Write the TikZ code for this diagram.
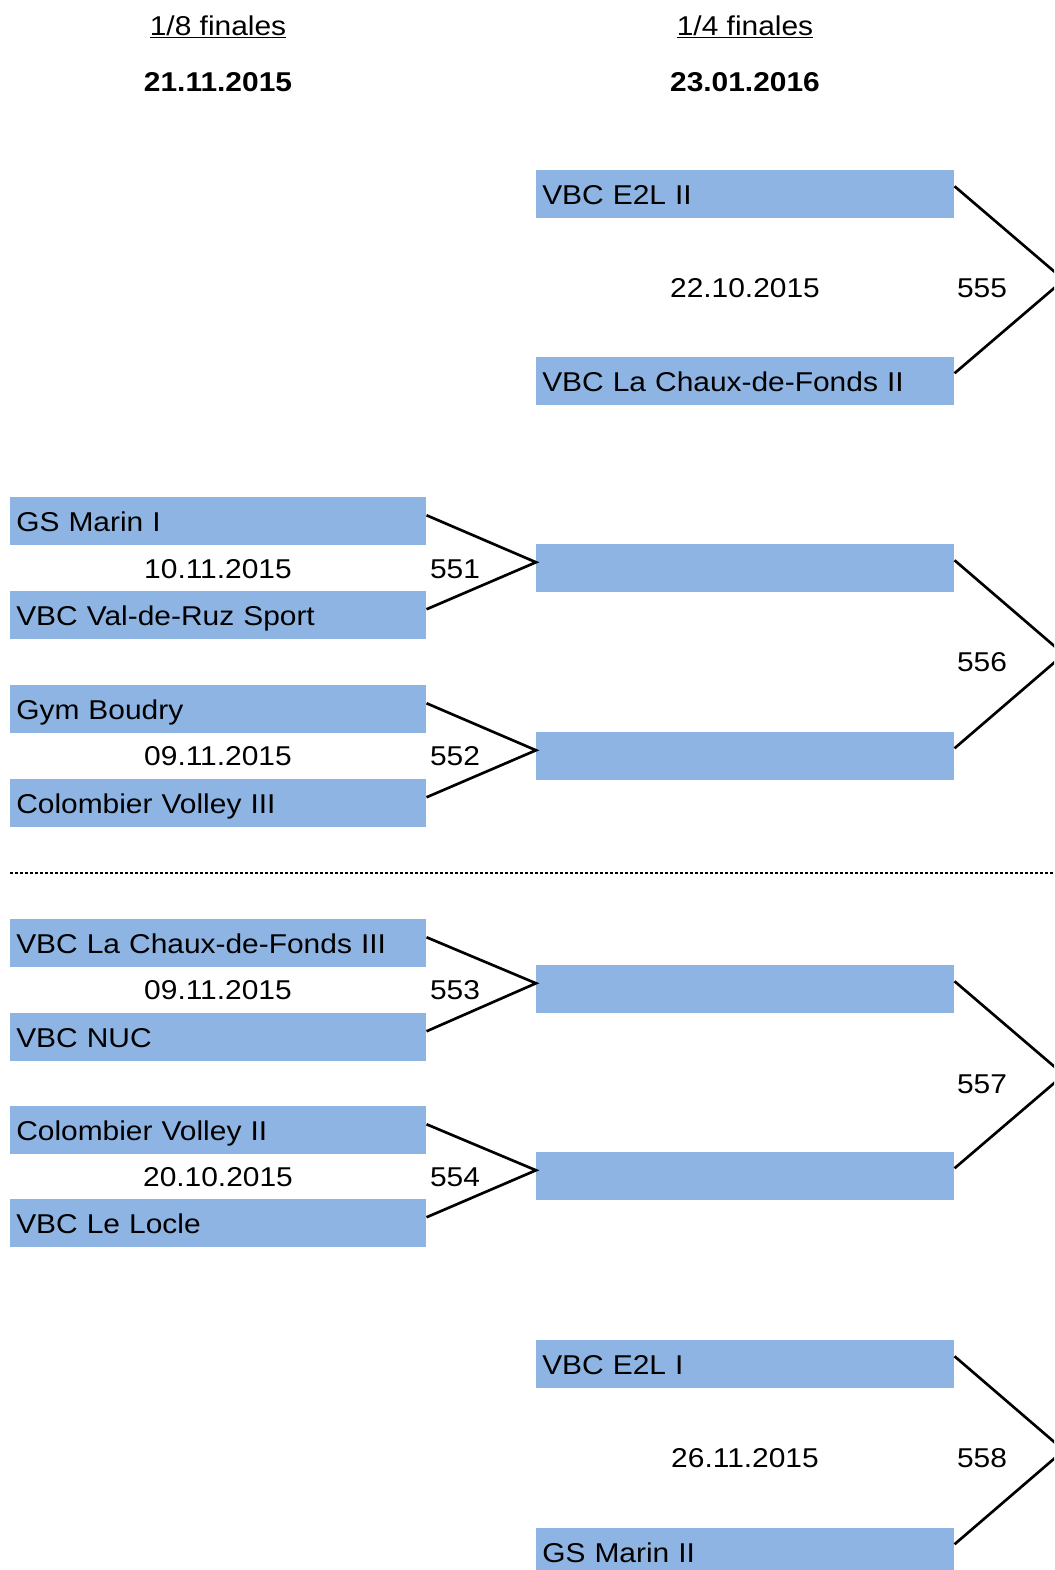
\documentclass[tikz,border=0pt]{standalone}
\usepackage{fontspec}
\setmainfont{Liberation Sans}[FakeStretch=1.1]
\usetikzlibrary{calc}
\definecolor{boxblue}{RGB}{141,180,226}
\newcommand{\teamfont}{\fontsize{20.4}{24}\selectfont}
\begin{document}
\begin{tikzpicture}[x=0.75pt,y=-0.75pt,
  team/.style={fill=boxblue, minimum height=36pt, inner xsep=4.5pt, inner ysep=0pt,
    text width=303pt, align=left, anchor=north west, font=\teamfont,
    text height=20pt, text depth=4pt},
  rteam/.style={team, text width=304.5pt},
  conn/.style={line width=2pt, line join=miter},
  lbl/.style={font=\teamfont, inner sep=0pt},
  head/.style={font=\teamfont, inner sep=0pt, anchor=base},
  sep/.style={line width=1.6pt, dash pattern=on 2.25pt off 1.5pt}]
\useasboundingbox (0,0) rectangle (1054,1570);
\clip (0,0) rectangle (1054,1570);

% headers
\node[head] (h1) at (218,35.5) {\underline{1/8 finales}};
\node[head] (h2) at (745,35.5) {\underline{1/4 finales}};
\node[head, font=\teamfont\bfseries] (d1) at (218,91.5) {21.11.2015};
\node[head, font=\teamfont\bfseries] (d2) at (745,91.5) {23.01.2016};

% left column
\node[team] (l1) at (10,497) {GS Marin I};
\node[team] (l2) at (10,591) {VBC Val-de-Ruz Sport};
\node[team] (l3) at (10,685) {Gym Boudry};
\node[team] (l4) at (10,779) {Colombier Volley III};
\node[team] (l5) at (10,919) {VBC La Chaux-de-Fonds III};
\node[team] (l6) at (10,1013) {VBC NUC};
\node[team] (l7) at (10,1106) {Colombier Volley II};
\node[team] (l8) at (10,1199) {VBC Le Locle};

% right column
\node[rteam] (r1) at (536,170) {VBC E2L II};
\node[rteam] (r2) at (536,357) {VBC La Chaux-de-Fonds II};
\node[rteam] (r3) at (536,544) {};
\node[rteam] (r4) at (536,732) {};
\node[rteam] (r5) at (536,965) {};
\node[rteam] (r6) at (536,1152) {};
\node[rteam] (r7) at (536,1340) {VBC E2L I};
\node[rteam] (r8) at (536,1528) {GS Marin II};

% left labels
\node[lbl] (t551) at (218,569.5) {10.11.2015};
\node[lbl] (n551) at (455,569.5) {551};
\node[lbl] (t552) at (218,756.5) {09.11.2015};
\node[lbl] (n552) at (455,756.5) {552};
\node[lbl] (t553) at (218,990.5) {09.11.2015};
\node[lbl] (n553) at (455,990.5) {553};
\node[lbl] (t554) at (218,1177.5) {20.10.2015};
\node[lbl] (n554) at (455,1177.5) {554};

% right labels
\node[lbl] (t555) at (745,288.5) {22.10.2015};
\node[lbl] (n555) at (982,288.5) {555};
\node[lbl] (n556) at (982,662.5) {556};
\node[lbl] (n557) at (982,1084.5) {557};
\node[lbl] (t558) at (745,1458.5) {26.11.2015};
\node[lbl] (n558) at (982,1458.5) {558};

% left connectors
\draw[conn] ([yshift=4.5pt]l1.east) -- ([yshift=4.5pt]r3.west) -- ([yshift=4.5pt]l2.east);
\draw[conn] ([yshift=4.5pt]l3.east) -- ([yshift=4.5pt]r4.west) -- ([yshift=4.5pt]l4.east);
\draw[conn] ([yshift=4.5pt]l5.east) -- ([yshift=4.5pt]r5.west) -- ([yshift=4.5pt]l6.east);
\draw[conn] ([yshift=4.5pt]l7.east) -- ([yshift=4.5pt]r6.west) -- ([yshift=4.5pt]l8.east);

% right connectors
\coordinate (a555) at ($(r1.east)!0.5!(r2.east)+(82pt,6pt)$);
\coordinate (a556) at ($(r3.east)!0.5!(r4.east)+(82pt,6pt)$);
\coordinate (a557) at ($(r5.east)!0.5!(r6.east)+(82pt,6pt)$);
\coordinate (a558) at ($(r7.east)!0.5!(r8.east)+(82pt,6pt)$);
\draw[conn] ([yshift=6pt]r1.east) -- (a555) -- ([yshift=6pt]r2.east);
\draw[conn] ([yshift=6pt]r3.east) -- (a556) -- ([yshift=6pt]r4.east);
\draw[conn] ([yshift=6pt]r5.east) -- (a557) -- ([yshift=6pt]r6.east);
\draw[conn] ([yshift=6pt]r7.east) -- (a558) -- ([yshift=6pt]r8.east);

% separator
\coordinate (s1) at (10,873);
\coordinate (s2) at (1054,873);
\draw[sep] (s1) -- (s2);
\end{tikzpicture}
\end{document}
